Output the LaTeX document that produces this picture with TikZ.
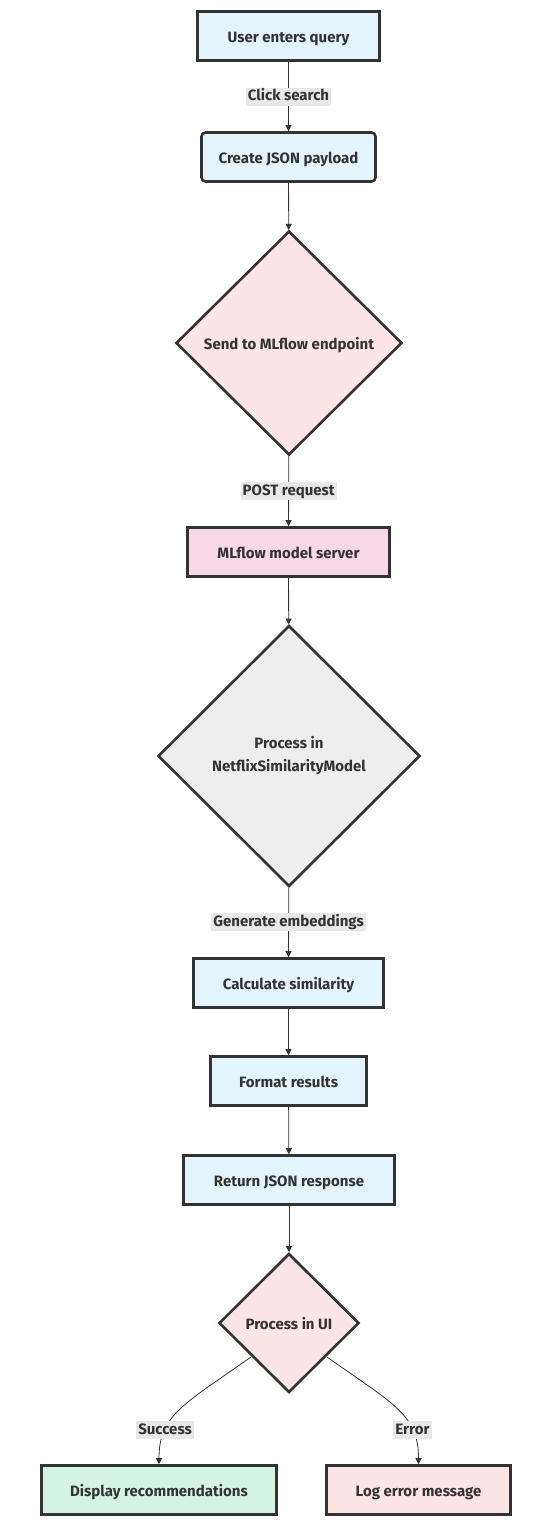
\documentclass[tikz,border=0pt]{standalone}
\usepackage{fontspec}
\setmainfont{Fira Sans}
\usetikzlibrary{shapes.geometric,arrows.meta}
\definecolor{ink}{HTML}{333333}
\definecolor{bluefill}{HTML}{E3F4FD}
\definecolor{pinkfill}{HTML}{FDE5E6}
\definecolor{serverfill}{HTML}{F8D7E6}
\definecolor{grayfill}{HTML}{EEEEEE}
\definecolor{greenfill}{HTML}{D4F4E2}
\definecolor{labelbg}{HTML}{E8E8E8}
\tikzset{
  every node/.style={font=\fontsize{15}{23}\selectfont\bfseries, text=ink},
  box/.style={draw=ink, line width=2.6pt, rectangle, inner sep=0pt, minimum height=49pt, text height=12.5pt, text depth=0pt},
  decision/.style={draw=ink, line width=2.6pt, diamond, inner sep=0pt, align=center},
  oneline/.style={text height=12.5pt, text depth=0pt},
  flow/.style={draw=ink, line width=0.8pt, -{Triangle[length=6pt,width=6pt]}},
  elabel/.style={fill=labelbg, inner sep=2pt, text height=11pt, text depth=3pt}
}
\begin{document}
\begin{tikzpicture}[x=1pt,y=-1pt]
\useasboundingbox (0,0) rectangle (547,1528);
\node[box, fill=bluefill, minimum width=182pt] (n1) at (288.5,36) {User enters query};
\node[box, fill=bluefill, minimum width=174pt, rounded corners=4pt] (n2) at (288.5,157) {Create JSON payload};
\node[decision, oneline, fill=pinkfill, minimum width=226pt, minimum height=224pt] (n3) at (289,343) {Send to MLflow endpoint};
\node[box, fill=serverfill, minimum width=202pt] (n4) at (288.5,552) {MLflow model server};
\node[decision, fill=grayfill, minimum width=262pt, minimum height=261pt, text depth=5pt] (n5) at (289,756) {Process in\\NetflixSimilarityModel};
\node[box, fill=bluefill, minimum width=190pt] (n6) at (288.5,983) {Calculate similarity};
\node[box, fill=bluefill, minimum width=156pt] (n7) at (288.5,1081) {Format results};
\node[box, fill=bluefill, minimum width=211pt] (n8) at (289,1180) {Return JSON response};
\node[decision, oneline, fill=pinkfill, minimum width=140pt, minimum height=139pt] (n9) at (289,1323) {Process in UI};
\node[box, fill=greenfill, minimum width=235pt] (n10) at (159,1490) {Display recommendations};
\node[box, fill=pinkfill, minimum width=184pt] (n11) at (418.5,1490) {Log error message};

\draw[flow] (n1) -- node[elabel] {Click search} (n2);
\draw[flow] (n2) -- (n3);
\draw[flow] (n3) -- node[elabel] {POST request} (n4);
\draw[flow] (n4) -- (n5);
\draw[flow] (n5) -- node[elabel] {Generate embeddings} (n6);
\draw[flow] (n6) -- (n7);
\draw[flow] (n7) -- (n8);
\draw[flow] (n8) -- (n9);
\coordinate (sl) at (251,1357);
\coordinate (sr) at (327,1357);
\draw[flow] (sl) .. controls (183,1405) and (159,1415) .. node[pos=0.72, elabel] {Success} (n10.north);
\draw[flow] (sr) .. controls (395,1405) and (418.5,1415) .. node[pos=0.72, elabel] {Error} (n11.north);
\end{tikzpicture}
\end{document}
